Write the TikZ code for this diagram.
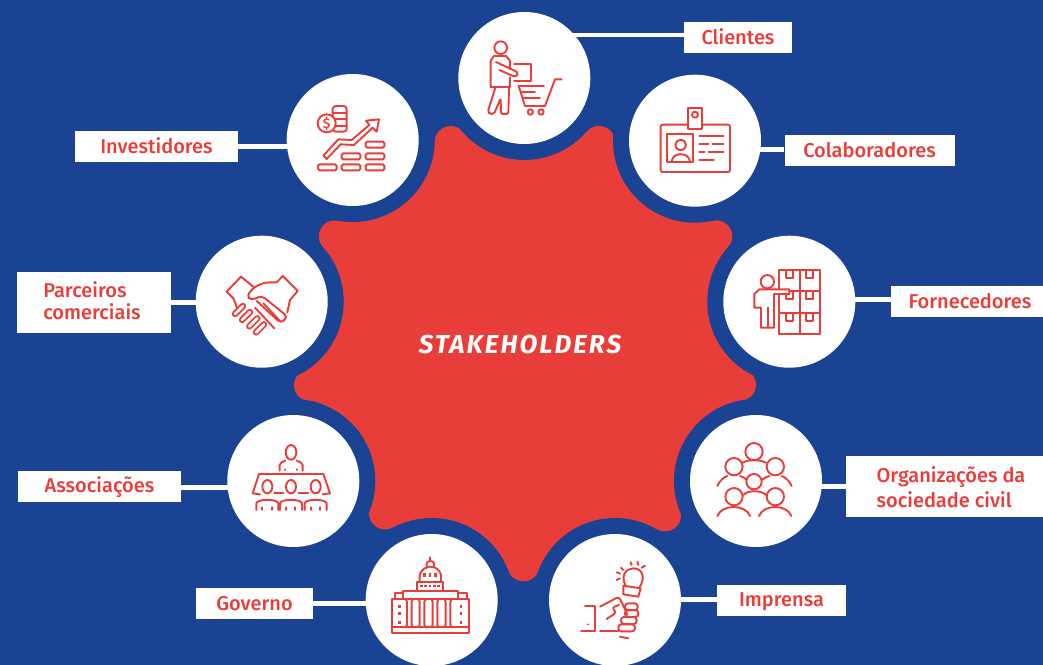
\documentclass[tikz,border=0pt]{standalone}
\usepackage{fontspec}
\setmainfont{Fira Sans}[UprightFont=* Medium]
\newfontfamily\titlefont{Fira Sans}[UprightFont=* Bold Italic, LetterSpace=8]
\definecolor{deckblue}{RGB}{26,67,148}
\definecolor{deckred}{RGB}{233,61,58}
\tikzset{
	hub/.style={circle, fill=white, minimum size=132, inner sep=0},
	tag/.style={fill=white, text=deckred, inner sep=0, align=left, font=\fontsize{20}{25}\selectfont, execute at begin node={\rule[-3pt]{0pt}{20pt}}},
	link/.style={draw=white, line width=4.5},
	icon/.style={draw=deckred, line width=1.9, line cap=round, line join=round},
}
\begin{document}
\begin{tikzpicture}[x=1pt, y=-1pt]
	
	\useasboundingbox (0,0) rectangle (1043,664);
	\fill[deckblue] (-3,-3) rectangle (1046,667);
	
	% Circle centres
	\foreach \i/\cx/\cy in {1/524.3/78, 2/695/140.7, 3/789.3/301.7, 4/756/481, 5/615/600, 6/431.7/600, 7/293.3/481, 8/261.7/301.7, 9/352.7/140}
	\coordinate (pos\i) at (\cx,\cy);
	
	% Tips of the red shape
	\foreach \i/\tx/\ty in {1/599/142, 2/716.3/236.4, 3/740/384.8, 4/665/515.3, 5/523.4/565.3, 6/385/513.4, 7/310/385.1, 8/334.8/236.4, 9/450.7/142} {
		\coordinate (tip\i) at (\tx,\ty);
		\fill[deckred] (tip\i) circle[radius=16];
	}
	\fill[deckred] (pos1) -- (tip1) -- (pos2) -- (tip2) -- (pos3) -- (tip3) -- (pos4) -- (tip4) -- (pos5) -- (tip5) -- (pos6) -- (tip6) -- (pos7) -- (tip7) -- (pos8) -- (tip8) -- (pos9) -- (tip9) -- cycle;
	
	% Blue rings cut the red shape
	\foreach \i in {1,...,9}
	\fill[deckblue] (pos\i) circle[radius=82];
	
	% Title
	\node[text=white, font=\fontsize{26}{28}\titlefont] (title) at (520,344) {STAKEHOLDERS};
	
	% Labels
	\node[tag, minimum width=108, minimum height=31] (tag1) at (738,37.5) {Clientes};
	\node[tag, minimum width=170, minimum height=31] (tag2) at (869.5,150.5) {Colaboradores};
	\node[tag, minimum width=152, minimum height=31] (tag3) at (967,301.5) {\hspace*{6pt}Fornecedores};
	\node[tag, minimum width=197, minimum height=61] (tag4) at (944.5,486.5) {\rule{0pt}{19pt}\hspace*{13pt}Organizações da\\\hspace*{13pt}sociedade civil};
	\node[tag, minimum width=129, minimum height=31] (tag5) at (781.5,600.5) {Imprensa};
	\node[tag, minimum width=117, minimum height=31] (tag6) at (254.5,603.5) {Governo};
	\node[tag, minimum width=163, minimum height=31] (tag7) at (99.5,486.5) {Associações};
	\node[tag, minimum width=154, minimum height=61] (tag8) at (94,302.5) {\hspace*{-4pt}Parceiros\\[-3pt]\hspace*{-4pt}comerciais};
	\node[tag, minimum width=163, minimum height=31] (tag9) at (156.5,146.5) {Investidores};
	
	% White circles
	\foreach \i in {1,...,9}
	\node[hub] (hub\i) at (pos\i) {};
	
	% Connections
	\draw[link] ([yshift=2.5]tag1.west) -- ([yshift=2.5]tag1.west -| hub1.center);
	\draw[link] ([yshift=1]tag2.west) -- ([yshift=1]tag2.west -| hub2.center);
	\draw[link] ([yshift=2]tag3.west) -- ([yshift=2]tag3.west -| hub3.center);
	\draw[link] (tag4.west) -- (tag4.west -| hub4.center);
	\draw[link] ([yshift=1]tag5.west) -- ([yshift=1]tag5.west -| hub5.center);
	\draw[link] (tag6.east) -- (tag6.east -| hub6.center);
	\draw[link] ([yshift=-1]tag7.east) -- ([yshift=-1]tag7.east -| hub7.center);
	\draw[link] (tag8.east) -- (tag8.east -| hub8.center);
	\draw[link] (tag9.east) -- (tag9.east -| hub9.center);
	
	% Icon: Clientes
	\begin{scope}[shift={(440,0)}, scale=1/3, icon]
		\draw (182,143) circle[radius=19];
		\draw (152,262) -- (152,182) -- (162,168) -- (198,168) -- (210,182) -- (210,207);
		\draw (210,232) -- (210,262) -- (152,262);
		\draw[rounded corners=3] (168,186) -- (236,218) -- (228,232) -- (178,210);
		\draw (222,193) -- (273,193) -- (273,243) -- (222,243);
		\draw[rounded corners=2] (166,264) -- (143,335) -- (150,342) -- (162,342) -- (182,295) -- (183,342) -- (205,342) -- (207,264);
		\draw (365,238) -- (345,238) -- (315,318) -- (255,318) -- (236,258) -- (312,258);
		\draw (245,275) -- (285,275);
		\draw (250,295) -- (300,295);
		\draw (271,336) circle[radius=8];
		\draw (303,336) circle[radius=8];
	\end{scope}
	
	% Icon: Colaboradores
	\begin{scope}[shift={(440,0)}, scale=1/3, icon]
		\draw[rounded corners=2] (662,374) rectangle (870,516);
		\draw[fill=white] (745,324) rectangle (786,386);
		\draw (765,344) circle[radius=9];
		\draw (682,403) rectangle (760,487);
		\draw (722,435) circle[radius=16];
		\draw (695,485) .. controls (697,455) and (747,455) .. (750,485);
		\draw (778,409) -- (850,409);
		\draw (778,433) -- (805,433);
		\draw (818,433) -- (850,433);
		\draw (778,456) -- (793,456);
		\draw (806,456) -- (850,456);
		\draw (778,480) -- (822,480);
	\end{scope}
	
	% Icon: Investidores
	\begin{scope}[shift={(180,60)}, scale=1/3, icon]
		\draw[rounded corners=3] (458,138) rectangle (500,215);
		\foreach \y in {158,178,198}
		\draw (458,\y) -- (500,\y);
		\draw[fill=white] (440,190) circle[radius=27];
		\node[text=deckred, draw=none, inner sep=0, font=\fontsize{14}{14}\selectfont] (coin) at (440,190) {\$};
		\draw (430,287) -- (475,238) -- (515,240) -- (568,195) -- (558,182) -- (597,178) -- (590,215) -- (578,203) -- (522,255) -- (482,253) -- (440,297) -- cycle;
		\foreach \bx/\by in {414/313, 485/313, 557/313, 485/280, 557/280, 557/245}
		\draw[rounded corners=1.5] (\bx,\by) rectangle ++(56,18);
	\end{scope}
	
	% Icon: Parceiros comerciais
	\begin{scope}[shift={(215,265)}, scale=1/3, icon]
		\draw (55,100) -- (35,80) -- (78,35) -- (118,68);
		\draw (55,100) -- (66,128);
		\draw (185,52) -- (203,33) -- (248,78) -- (225,105) -- (217,142);
		\draw[rounded corners=4] (185,52) -- (150,52) -- (118,66) -- (95,92) -- (108,106) -- (140,92) -- (218,155) -- (198,175) -- (125,108);
		\draw (145,115) -- (195,168);
		\draw (120,128) -- (178,190);
		\foreach \fx/\fy in {72/135, 93/153, 115/172, 135/190} {
			\draw[line width=6.4] (\fx-12,\fy+12) -- (\fx+12,\fy-12);
			\draw[draw=white, line width=2.8] (\fx-12,\fy+12) -- (\fx+12,\fy-12);
		}
	\end{scope}
	
	% Icon: Fornecedores
	\begin{scope}[shift={(700,230)}, scale=1/3, icon]
		\draw (238,120) rectangle (360,313);
		\draw (300,120) -- (300,313);
		\draw (238,183) -- (360,183);
		\draw (238,248) -- (360,248);
		\foreach \bx in {258,318}
		\foreach \by in {120,183,248}
		\draw (\bx,\by) -- (\bx,\by+25) -- (\bx+20,\by+25) -- (\bx+20,\by);
		\draw[fill=white] (163,233) -- (163,192) -- (178,178) -- (268,178) -- (268,192) -- (222,192) -- (222,293) -- (183,293) -- (183,233) -- cycle;
		\draw (203,233) -- (203,293);
		\draw[fill=white] (202,155) circle[radius=20];
	\end{scope}
	
	% Icon: Organizacoes
	\begin{scope}[shift={(540,400)}, scale=1/3, icon]
		\foreach \hx/\hy/\hr in {642/155/26, 582/200/26, 706/200/26, 642/245/23, 582/290/26, 706/290/26}
		\draw (\hx,\hy) circle[radius=\hr];
		\draw (532,348) .. controls (545,312) and (617,312) .. (630,348);
		\draw (657,348) .. controls (670,312) and (741,312) .. (754,348);
		\draw (532,258) .. controls (540,240) and (552,232) .. (562,228);
		\draw (755,258) .. controls (747,240) and (735,232) .. (725,228);
		\draw (608,188) .. controls (625,178) and (660,178) .. (678,188);
		\draw (600,228) .. controls (608,230) and (612,233) .. (618,238);
		\draw (688,228) .. controls (680,230) and (674,233) .. (668,238);
		\draw (610,285) .. controls (620,270) and (665,270) .. (678,285);
	\end{scope}
	
	% Icon: Imprensa
	\begin{scope}[shift={(575,555)}, scale=1/3, icon]
		\draw (152,92) .. controls (135,60) and (155,40) .. (175,40) .. controls (198,40) and (215,62) .. (193,98);
		\draw (145,92) -- (197,100) -- (190,125) -- (145,118) -- cycle;
		\draw (125,52) -- (135,56);
		\draw (125,75) -- (135,70);
		\draw (138,38) -- (145,45);
		\draw (167,22) -- (170,30);
		\draw (187,20) -- (190,30);
		\draw (210,32) -- (200,38);
		\draw (30,152) -- (60,152) -- (60,228) -- (18,228);
		\draw (38,208) -- (38,208.1);
		\draw[rounded corners=3] (75,155) -- (132,125) -- (157,178);
		\draw[rounded corners=3] (132,150) -- (110,158) -- (125,172) -- (95,192);
		\draw (75,228) -- (130,228);
		\foreach \fx/\fy/\fw in {150/145/38, 150/165/40, 138/186/47, 130/208/50}
		\draw[rounded corners=3] (\fx,\fy) rectangle ++(\fw,21);
		\draw (135,245) -- (160,250);
	\end{scope}
	
	% Icon: Governo
	\begin{scope}[shift={(385,550)}, scale=1/3, icon]
		\draw (22,147) rectangle (252,248);
		\draw (22,232) -- (252,232);
		\draw (30,147) -- (30,130) -- (55,130);
		\draw (55,124) rectangle (218,147);
		\draw (218,130) -- (245,130) -- (245,147);
		\foreach \x in {62,100,139,178}
		\draw (\x,147) -- (\x+4,155) -- (\x+4,224) -- (\x,232) (\x+22,147) -- (\x+18,155) -- (\x+18,224) -- (\x+22,232);
		\draw (97,124) -- (97,96) -- (175,96) -- (175,124);
		\draw (104,96) -- (104,75) .. controls (108,58) and (125,50) .. (136,50) .. controls (150,50) and (164,58) .. (168,75) -- (168,96);
		\draw (125,50) -- (125,40) .. controls (127,31) and (145,31) .. (147,40) -- (147,50);
		\draw (136,30) -- (136,22);
		\foreach \x in {118,135,152}
		\draw[line width=2.6, line cap=butt] (\x,68) -- (\x,82);
		\foreach \x in {110,122,135,148,160}
		\draw[line width=2.6, line cap=butt] (\x,104) -- (\x,112);
		\foreach \x in {44,228}
		\foreach \y in {165,186,212}
		\draw[line width=2.6, line cap=butt] (\x,\y) -- (\x,\y+10);
	\end{scope}
	
	% Icon: Associacoes
	\begin{scope}[shift={(210,400)}, scale=1/3, icon]
		\draw (243,157) ellipse[x radius=16, y radius=22];
		\draw (209,212) -- (209,195) .. controls (210,188) and (218,185) .. (226,182);
		\draw (278,212) -- (278,195) .. controls (277,188) and (268,185) .. (260,182);
		\draw (225,208) -- (225,210);
		\draw (262,208) -- (262,210);
		\draw (128,280) -- (147,222) -- (340,222) -- (360,280);
		\draw (128,280) -- (150,283);
		\draw (192,280) -- (220,280);
		\draw (266,280) -- (295,280);
		\draw (338,283) -- (360,280);
		\foreach \x in {172,243,317} {
			\draw (\x,260) ellipse[x radius=15, y radius=20];
			\draw (\x-33,330) -- (\x-33,310) .. controls (\x-30,296) and (\x+30,296) .. (\x+33,310) -- (\x+33,330);
			\draw (\x-15,322) -- (\x-15,330);
			\draw (\x+13,322) -- (\x+13,330);
		}
	\end{scope}
	
\end{tikzpicture}
\end{document}
